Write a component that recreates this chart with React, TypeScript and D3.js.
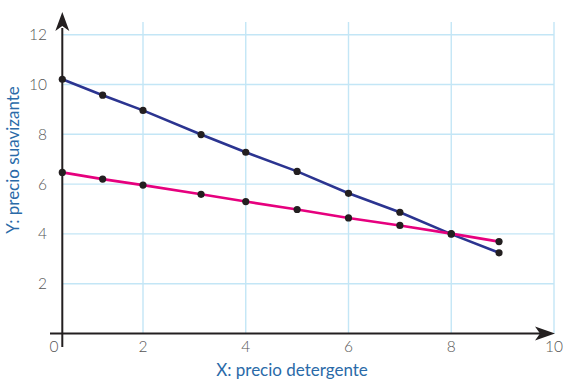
import React from "react";
import * as d3 from "d3";

const xValues = [0, 1, 2, 3.13, 4, 5, 6, 7, 8, 8.93];
const navySeries = [10.21, 9.57, 8.96, 7.99, 7.28, 6.51, 5.63, 4.87, 3.99, 3.24];
const pinkSeries = [6.47, 6.2, 5.96, 5.59, 5.3, 4.98, 4.64, 4.34, 4.01, 3.69];
const xTicks = [2, 4, 6, 8, 10];
const yTicks = [2, 4, 6, 8, 10, 12];
const xTitle = "X: precio detergente";
const yTitle = "Y: precio suavizante";

const W = 566;
const H = 379;

export default function App() {
  const x = d3.scaleLinear().domain([0, 2, 10]).range([62.3, 143, 554]);
  const y = d3.scaleLinear().domain([0, 12]).range([333.5, 34.7]);
  const line = d3
    .line<[number, number]>()
    .x((d) => x(d[0]))
    .y((d) => y(d[1]));
  const navy: [number, number][] = xValues.map((v, i) => [v, navySeries[i]]);
  const pink: [number, number][] = xValues.map((v, i) => [v, pinkSeries[i]]);
  const gridColor = "#c3e6f6";
  const axisColor = "#231f20";
  const font = "Lato, 'Open Sans', sans-serif";
  const x0 = x(0);
  const y0 = y(0);
  return (
    <svg
      width={W}
      height={H}
      style={{ position: "absolute", left: 0, top: 0, background: "#fff" }}
    >
      {/* grid */}
      {xTicks.map((t) => (
        <line key={"gx" + t} x1={x(t)} x2={x(t)} y1={y0} y2={22} stroke={gridColor} strokeWidth={1.4} />
      ))}
      {yTicks.map((t) => (
        <line key={"gy" + t} x1={x0} x2={x(10)} y1={y(t)} y2={y(t)} stroke={gridColor} strokeWidth={1.4} />
      ))}
      {/* axes */}
      <line x1={50} x2={540} y1={y0} y2={y0} stroke={axisColor} strokeWidth={2} />
      <path
        d={`M ${555} ${y0} L ${535} ${y0 - 7} L ${540} ${y0} L ${535} ${y0 + 7} Z`}
        fill={axisColor}
      />
      <line x1={x0} x2={x0} y1={347} y2={28} stroke={axisColor} strokeWidth={2} />
      <path
        d={`M ${x0} ${12} L ${x0 - 7} ${31} L ${x0} ${26} L ${x0 + 7} ${31} Z`}
        fill={axisColor}
      />
      {/* tick labels */}
      {yTicks.map((t) => (
        <text
          key={"ty" + t}
          x={47}
          y={y(t) + 5.5}
          textAnchor="end"
          fontFamily={font}
          fontSize={15.5}
          fontWeight={300}
          fill="#555"
        >
          {t}
        </text>
      ))}
      <text x={54} y={352} textAnchor="middle" fontFamily={font} fontSize={15.5} fontWeight={300} fill="#555">
        0
      </text>
      {xTicks.map((t) => (
        <text
          key={"tx" + t}
          x={x(t)}
          y={352}
          textAnchor="middle"
          fontFamily={font}
          fontSize={15.5}
          fontWeight={300}
          fill="#555"
        >
          {t}
        </text>
      ))}
      {/* titles */}
      <text x={292} y={376} textAnchor="middle" fontFamily={font} fontSize={17} fill="#2a6aa8">
        {xTitle}
      </text>
      <text
        transform={`translate(19,${160}) rotate(-90)`}
        textAnchor="middle"
        fontFamily={font}
        fontSize={17}
        fill="#2a6aa8"
      >
        {yTitle}
      </text>
      {/* lines */}
      <path d={line(navy) || ""} fill="none" stroke="#2b3490" strokeWidth={2.6} />
      <path d={line(pink) || ""} fill="none" stroke="#e6007e" strokeWidth={2.6} />
      {navy.map((d, i) => (
        <circle key={"n" + i} cx={x(d[0])} cy={y(d[1])} r={3.6} fill="#231f20" />
      ))}
      {pink.map((d, i) => (
        <circle key={"p" + i} cx={x(d[0])} cy={y(d[1])} r={3.6} fill="#231f20" />
      ))}
    </svg>
  );
}
